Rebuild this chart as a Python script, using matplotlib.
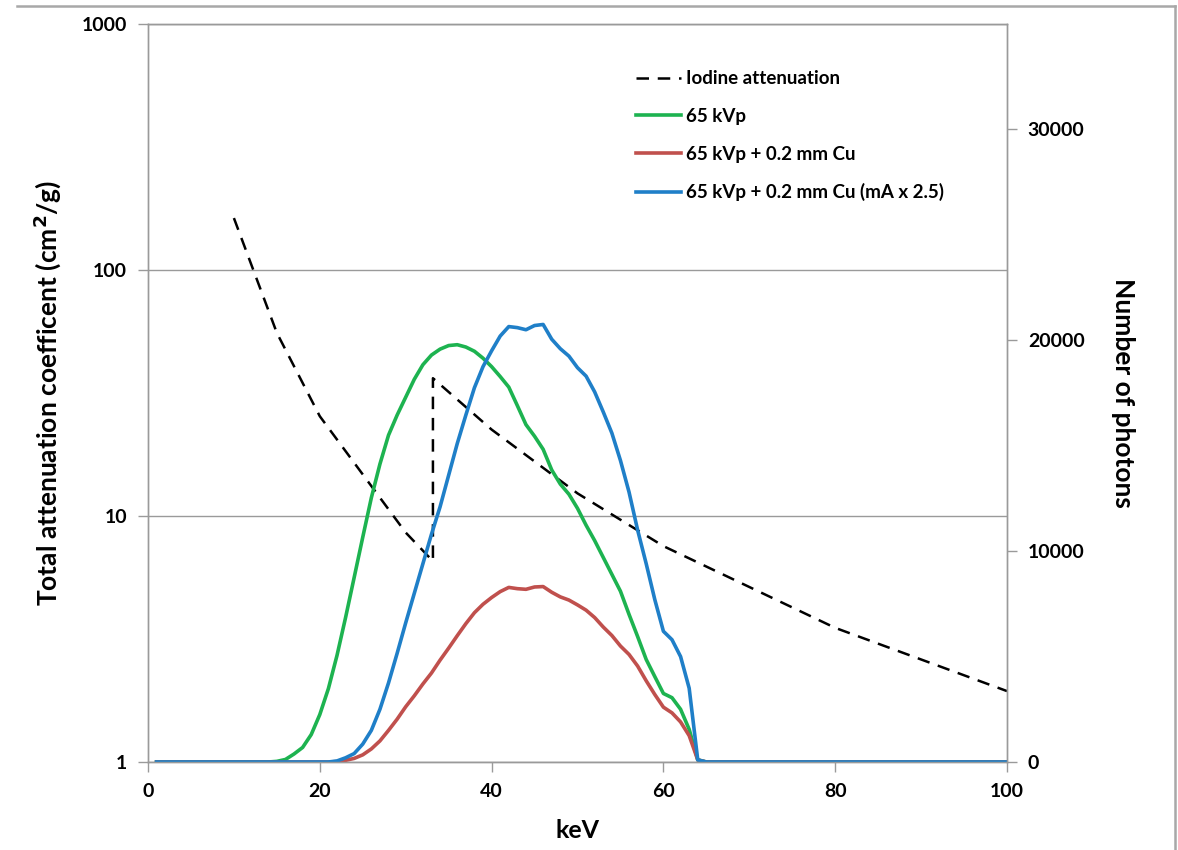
import numpy as np
import matplotlib
matplotlib.use("Agg")
from matplotlib import pyplot as plt
from matplotlib.lines import Line2D
from matplotlib.ticker import FixedLocator, NullLocator

# iodine mass attenuation (cm2/g) vs keV, with K-edge at 33.17
iodine_kev = [10, 15, 20, 30, 33.17, 33.17, 40, 50, 60, 80, 100]
iodine_mu = [162.6, 55.5, 25.44, 8.564, 6.551, 36.32, 22.46, 12.36, 7.544, 3.51, 1.942]

# photon spectra (number of photons), 1 keV steps from 14 to 65 keV, zero outside
kev = [1] + list(range(14, 66)) + [100]
green = [0,
         0, 30, 120, 380, 690, 1300, 2250, 3480, 5050, 6850,
         8750, 10660, 12530, 14130, 15500, 16450, 17300, 18150, 18840, 19300,
         19580, 19750, 19790, 19680, 19480, 19150, 18750, 18280, 17780, 16900,
         16000, 15450, 14830, 13850, 13180, 12700, 12030, 11230, 10500, 9700,
         8900, 8100, 7000, 5950, 4860, 4050, 3250, 3050, 2500, 1550,
         100, 0,
         0]
red = [0,
       0, 0, 0, 0, 0, 0, 0, 0, 20, 80,
       170, 340, 620, 1000, 1500, 2030, 2620, 3140, 3700, 4220,
       4830, 5400, 5990, 6560, 7080, 7480, 7800, 8080, 8280, 8220,
       8190, 8300, 8320, 8050, 7830, 7680, 7450, 7200, 6850, 6400,
       6000, 5500, 5100, 4550, 3850, 3200, 2600, 2330, 1900, 1250,
       100, 0,
       0]
blue = [0,
        0, 0, 0, 0, 0, 0, 0, 0, 50, 200,
        400, 850, 1500, 2500, 3750, 5150, 6600, 8000, 9400, 10800,
        12100, 13600, 15100, 16450, 17750, 18750, 19500, 20200, 20650, 20600,
        20500, 20700, 20750, 20050, 19600, 19250, 18700, 18300, 17550, 16600,
        15600, 14300, 12800, 11000, 9400, 7700, 6200, 5800, 5000, 3500,
        100, 0,
        0]

labels = ["Iodine attenuation", "65 kVp", "65 kVp + 0.2 mm Cu",
          "65 kVp + 0.2 mm Cu (mA x 2.5)"]

GREEN = "#1db350"
RED = "#c0504d"
BLUE = "#1f7fc8"
GRAY = "#9a9a9a"

plt.rcParams["font.family"] = ["Lato", "DejaVu Sans"]
plt.rcParams["font.weight"] = "bold"


def main():
    fig = plt.figure(figsize=(11.78, 8.5), dpi=100)
    ax = fig.add_axes([148 / 1178, 1 - 762 / 850, 859 / 1178, 738 / 850])
    ax2 = ax.twinx()

    ax.set_yscale("log")
    ax.set_ylim(1, 1000)
    ax.set_xlim(0, 100)
    ax.yaxis.set_major_locator(FixedLocator([1, 10, 100, 1000]))
    ax.yaxis.set_minor_locator(NullLocator())
    ax.set_yticklabels(["1", "10", "100", "1000"])
    ax.set_xticks([0, 20, 40, 60, 80, 100])
    ax.grid(axis="y", color=GRAY, lw=1.0)
    ax.set_axisbelow(True)

    ax2.set_ylim(0, 35000)
    ax2.set_yticks([0, 10000, 20000, 30000])

    for a in (ax, ax2):
        for s in a.spines.values():
            s.set_color(GRAY)
            s.set_linewidth(1.0)
        a.tick_params(color=GRAY, length=7, width=1.0, labelsize=14, pad=8)

    (h0,) = ax.plot(iodine_kev, iodine_mu, color="black", lw=1.8,
                    ls=(0, (5, 3.5)), label=labels[0])
    (h1,) = ax2.plot(kev, green, color=GREEN, lw=2.6, label=labels[1])
    (h2,) = ax2.plot(kev, red, color=RED, lw=2.6, label=labels[2])
    (h3,) = ax2.plot(kev, blue, color=BLUE, lw=2.6, label=labels[3])

    ax.set_xlabel("keV", fontsize=18, fontweight="bold", va="center")
    ax.set_ylabel("Total attenuation coefficent (cm$^2$/g)", fontsize=19,
                  fontweight="bold", va="center")
    ax2.set_ylabel("Number of photons", fontsize=19, fontweight="bold",
                   rotation=-90, va="center")
    ax.xaxis.set_label_coords(0.5, -0.093)
    ax.yaxis.set_label_coords(-0.118, 0.5)
    ax2.yaxis.set_label_coords(1.135, 0.5)

    ax2.legend(handles=[h0, h1, h2, h3], loc="upper left",
               bbox_to_anchor=(0.548, 0.96), frameon=False,
               handlelength=2.4, handletextpad=0.3, labelspacing=1.1,
               prop={"weight": "bold", "size": 13.5})

    # outer chart border (top and right edges visible)
    fig.add_artist(Line2D([17 / 1178, 1175 / 1178], [1 - 6 / 850, 1 - 6 / 850],
                          transform=fig.transFigure, color="#a8a8a8", lw=1.8))
    fig.add_artist(Line2D([1175 / 1178, 1175 / 1178], [0, 1 - 6 / 850],
                          transform=fig.transFigure, color="#a8a8a8", lw=1.8))

    fig.savefig("out.png", dpi=100)
    plt.close(fig)


if __name__ == "__main__":
    main()
